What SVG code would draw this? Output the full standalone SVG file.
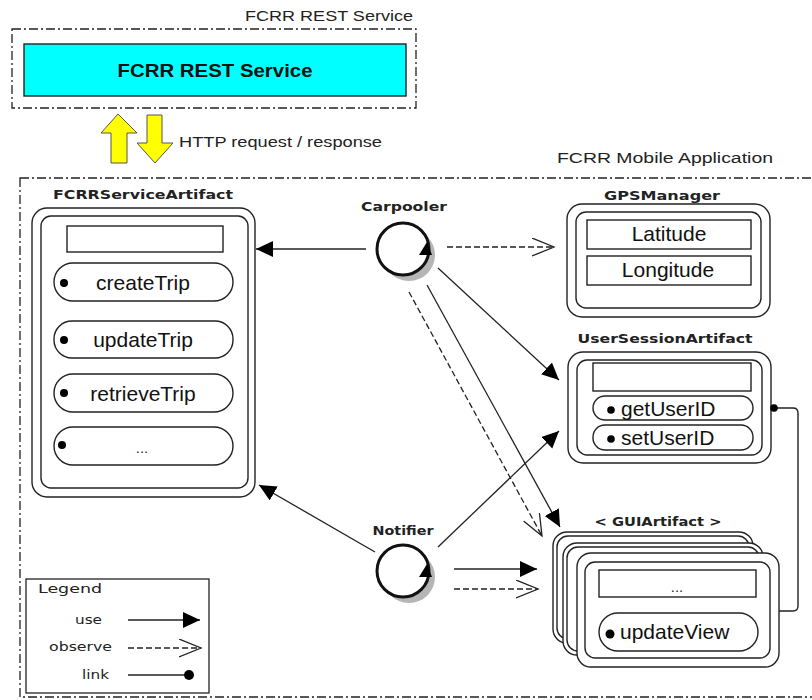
<svg xmlns="http://www.w3.org/2000/svg" width="812" height="700" viewBox="0 0 812 700">
  <style>
    .frame { fill: none; stroke: #222; stroke-width: 1.3; stroke-dasharray: 9 3 2 3; }
    .box { fill: #fff; stroke: #222; stroke-width: 1.4; }
    .inbox { fill: none; stroke: #222; stroke-width: 1.4; }
    .lbl { font-family: "Liberation Sans", Arial, sans-serif; font-size: 14px; fill: #222; }
    .title { font-family: "DejaVu Sans", "Liberation Sans", sans-serif; font-size: 13px; font-weight: bold; fill: #222; }
    .op { font-family: "Liberation Sans", Arial, sans-serif; font-size: 21px; fill: #111; }
    .small { font-family: "DejaVu Sans", sans-serif; font-size: 13px; fill: #222; }
    .use { fill: none; stroke: #222; stroke-width: 1.3; marker-end: url(#solidHead); }
    .obs { fill: none; stroke: #222; stroke-width: 1.3; stroke-dasharray: 6 3; marker-end: url(#openHead); }
    .dot { fill: #000; }
  </style>
  <defs>
    <marker id="solidHead" markerUnits="userSpaceOnUse" markerWidth="18" markerHeight="18" refX="17" refY="8" orient="auto">
      <path d="M0,0 L17,8 L0,16 Z" fill="#000"/>
    </marker>
    <marker id="openHead" markerUnits="userSpaceOnUse" markerWidth="24" markerHeight="20" refX="22" refY="9" orient="auto">
      <path d="M0,0 L22,9 L0,18" fill="none" stroke="#222" stroke-width="1.3"/>
    </marker>
    <g id="agent">
      <circle cx="6" cy="6" r="26" fill="#b5b5b5"/>
      <circle cx="0" cy="0" r="26" fill="#fff" stroke="#111" stroke-width="3"/>
      <path d="M16,6 L29,6 L24,-7 Z" fill="#000"/>
    </g>
  </defs>

  <!-- REST service frame -->
  <g id="rest-service">
    <rect class="frame" x="12" y="29" width="404" height="79"/>
    <text class="lbl" x="245" y="21" textLength="168" lengthAdjust="spacingAndGlyphs">FCRR REST Service</text>
    <rect x="24" y="44" width="382" height="52" fill="#00ffff" stroke="#222" stroke-width="1.4"/>
    <text x="215" y="77" text-anchor="middle" font-family="Liberation Sans, Arial, sans-serif" font-size="19" font-weight="bold" fill="#111" textLength="195" lengthAdjust="spacingAndGlyphs">FCRR REST Service</text>
  </g>

  <!-- HTTP exchange arrows -->
  <g id="http">
    <path d="M118,114 L137,133 L127,133 L127,163 L111,163 L111,133 L101,133 Z" fill="#ffff00" stroke="#555" stroke-width="1"/>
    <path d="M147,115 L162,115 L162,143 L173,143 L155,163 L137,143 L147,143 Z" fill="#ffff00" stroke="#555" stroke-width="1"/>
    <text class="lbl" x="179" y="147" textLength="203" lengthAdjust="spacingAndGlyphs">HTTP request / response</text>
  </g>

  <!-- Mobile application frame -->
  <g id="mobile-app">
    <rect class="frame" x="20" y="178" width="820" height="519"/>
    <text class="lbl" x="557" y="163" textLength="216" lengthAdjust="spacingAndGlyphs">FCRR Mobile Application</text>
  </g>

  <!-- FCRRServiceArtifact -->
  <g id="fcrr-service-artifact">
    <text class="title" x="143" y="199" text-anchor="middle" textLength="180" lengthAdjust="spacingAndGlyphs">FCRRServiceArtifact</text>
    <rect class="box" x="32" y="208" width="223" height="289" rx="15"/>
    <rect class="inbox" x="41" y="216" width="207" height="272" rx="10"/>
    <rect class="box" x="67" y="226" width="156" height="26"/>
    <rect class="box" x="54" y="263" width="179" height="38" rx="19"/>
    <circle class="dot" cx="64" cy="283" r="4"/>
    <text class="op" x="143" y="290" text-anchor="middle">createTrip</text>
    <rect class="box" x="54" y="321" width="179" height="37" rx="18"/>
    <circle class="dot" cx="64" cy="340" r="4"/>
    <text class="op" x="143" y="347" text-anchor="middle">updateTrip</text>
    <rect class="box" x="54" y="374" width="179" height="38" rx="19"/>
    <circle class="dot" cx="64" cy="393" r="4"/>
    <text class="op" x="143" y="401" text-anchor="middle">retrieveTrip</text>
    <rect class="box" x="54" y="427" width="179" height="38" rx="19"/>
    <circle class="dot" cx="62" cy="445" r="4"/>
    <text class="small" x="142" y="453" text-anchor="middle">...</text>
  </g>

  <!-- Carpooler agent -->
  <g id="carpooler">
    <text class="title" x="404" y="211" text-anchor="middle" textLength="86" lengthAdjust="spacingAndGlyphs">Carpooler</text>
    <use href="#agent" x="403" y="249"/>
  </g>

  <!-- Notifier agent -->
  <g id="notifier">
    <text class="title" x="403" y="535" text-anchor="middle" textLength="61" lengthAdjust="spacingAndGlyphs">Notifier</text>
    <use href="#agent" x="403" y="571"/>
  </g>

  <!-- GPSManager -->
  <g id="gps-manager">
    <text class="title" x="662" y="200" text-anchor="middle" textLength="116" lengthAdjust="spacingAndGlyphs">GPSManager</text>
    <rect class="box" x="567" y="204" width="203" height="113" rx="15"/>
    <rect class="inbox" x="576" y="212" width="185" height="96" rx="10"/>
    <rect class="box" x="587" y="220" width="164" height="29"/>
    <text class="op" x="669" y="241" text-anchor="middle">Latitude</text>
    <rect class="box" x="587" y="256" width="164" height="29"/>
    <text class="op" x="668" y="277" text-anchor="middle">Longitude</text>
  </g>

  <!-- UserSessionArtifact -->
  <g id="user-session-artifact">
    <text class="title" x="665" y="343" text-anchor="middle" textLength="175" lengthAdjust="spacingAndGlyphs">UserSessionArtifact</text>
    <rect class="box" x="568" y="352" width="203" height="111" rx="15"/>
    <rect class="inbox" x="577" y="360" width="185" height="95" rx="10"/>
    <rect class="box" x="593" y="363" width="158" height="28"/>
    <rect class="box" x="593" y="396" width="160" height="24" rx="12"/>
    <circle class="dot" cx="611" cy="410" r="3.8"/>
    <text class="op" x="621" y="416">getUserID</text>
    <rect class="box" x="593" y="425" width="160" height="25" rx="12"/>
    <circle class="dot" cx="611" cy="439" r="3.8"/>
    <text class="op" x="621" y="445">setUserID</text>
  </g>

  <!-- GUIArtifact stack -->
  <g id="gui-artifact">
    <text class="title" x="658" y="526" text-anchor="middle" textLength="127" lengthAdjust="spacingAndGlyphs">&lt; GUIArtifact &gt;</text>
    <rect class="box" x="553" y="532" width="200" height="111" rx="14"/>
    <rect class="inbox" x="557" y="536" width="192" height="103" rx="11"/>
    <rect class="box" x="563" y="543" width="200" height="112" rx="14"/>
    <rect class="inbox" x="567" y="547" width="192" height="104" rx="11"/>
    <rect class="box" x="577" y="553" width="202" height="114" rx="14"/>
    <rect class="inbox" x="585" y="562" width="185" height="96" rx="10"/>
    <rect class="box" x="599" y="570" width="157" height="27"/>
    <text class="small" x="677" y="592" text-anchor="middle">...</text>
    <rect class="box" x="599" y="613" width="159" height="38" rx="19"/>
    <circle class="dot" cx="610" cy="634" r="4.5"/>
    <text class="op" x="620" y="639">updateView</text>
  </g>

  <!-- Legend -->
  <g id="legend">
    <rect x="26" y="579" width="183" height="114" fill="#fff" stroke="#222" stroke-width="1.3"/>
    <text class="small" x="38" y="593" textLength="64" lengthAdjust="spacingAndGlyphs">Legend</text>
    <text class="small" x="102" y="624" text-anchor="end" textLength="27" lengthAdjust="spacingAndGlyphs">use</text>
    <line class="use" x1="128" y1="620" x2="200" y2="620"/>
    <text class="small" x="112" y="651" text-anchor="end" textLength="63" lengthAdjust="spacingAndGlyphs">observe</text>
    <line class="obs" x1="128" y1="648" x2="201" y2="648"/>
    <text class="small" x="109" y="679" text-anchor="end" textLength="27" lengthAdjust="spacingAndGlyphs">link</text>
    <line x1="128" y1="675" x2="190" y2="675" stroke="#222" stroke-width="1.3"/>
    <circle class="dot" cx="189" cy="675" r="5"/>
  </g>

  <!-- Connectors -->
  <g id="connectors">
    <line class="use" x1="366" y1="249" x2="256" y2="249"/>
    <line class="obs" x1="447" y1="247" x2="554" y2="247"/>
    <line class="use" x1="438" y1="268" x2="559" y2="380"/>
    <line class="use" x1="427" y1="285" x2="560" y2="527"/>
    <line class="obs" x1="409" y1="292" x2="542" y2="536"/>
    <line class="use" x1="438" y1="547" x2="559" y2="431"/>
    <line class="use" x1="375" y1="552" x2="259" y2="485"/>
    <line class="use" x1="454" y1="569" x2="537" y2="569"/>
    <line class="obs" x1="454" y1="589" x2="538" y2="589"/>
    <path d="M774,408 L793,408 Q798,408 798,413 L798,606 Q798,611 793,611 L779,611" fill="none" stroke="#222" stroke-width="1.4"/>
    <circle class="dot" cx="774" cy="408" r="3.8"/>
  </g>
</svg>
